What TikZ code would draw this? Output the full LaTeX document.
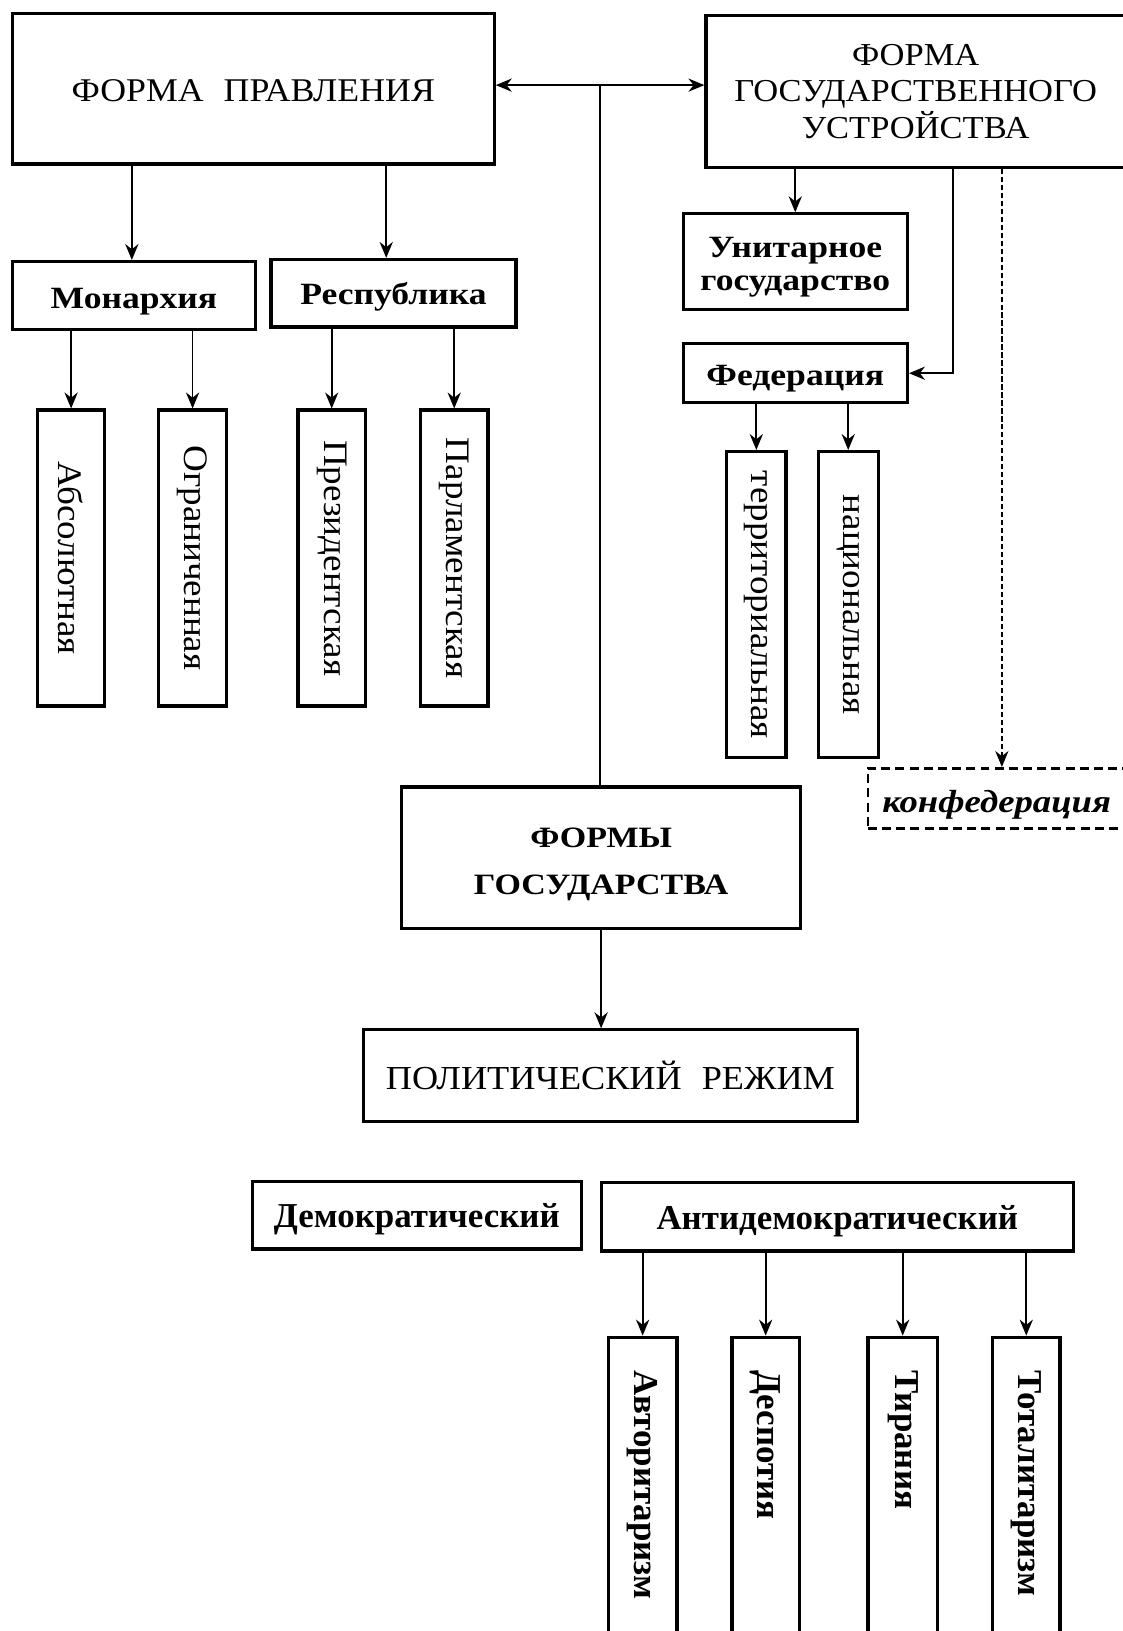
\documentclass[tikz,border=0pt]{standalone}
\usepackage{fontspec}
\setmainfont{Liberation Serif}[FakeStretch=1.08, BoldFeatures={FakeStretch=1.15}, BoldItalicFeatures={FakeStretch=1.15}]
\newfontfamily\tnr{Liberation Serif}
\newcommand\lowerby[1]{\rule{0pt}{#1}}
\usetikzlibrary{arrows.meta,calc}
\begin{document}
\begin{tikzpicture}[x=0.52pt,y=-0.52pt,
  box/.style={draw, line width=1.6pt, inner sep=0pt, align=center},
  arr/.style={-{Stealth[length=8pt,width=6.6pt,inset=2.6pt]}, line width=0.9pt},
  dashbox/.style={draw, line width=1.3pt, dash pattern=on 4.5pt off 2.6pt, inner sep=0pt},
  dasharr/.style={arr, dash pattern=on 2.6pt off 1.4pt, line width=0.65pt},
  capfont/.style={font=\fontsize{16.6}{18.2}\selectfont},
  boldfont/.style={font=\fontsize{15.5}{16.6}\selectfont\bfseries},
  vfont/.style={font=\fontsize{17.2}{20}\selectfont},
  tfont/.style={font=\fontsize{17.5}{20}\selectfont\tnr\bfseries},
  vbox/.style={box, vfont, rotate=-90},
  tbox/.style={box, tfont, rotate=-90, text width=139.36pt, inner xsep=16.64pt, align=left, minimum width=172.64pt}
]
\fill[white] (0,0) rectangle (1081,1571);
\useasboundingbox (0,0) rectangle (1081,1571);

% top level
\node[box, capfont, minimum width=241.28pt, minimum height=75.4pt] (fp) at (244,85.5) {\lowerby{13pt}ФОРМА\hspace{0.6em}ПРАВЛЕНИЯ};
\node[box, font=\fontsize{16}{18.2}\selectfont, minimum width=210.08pt, minimum height=75.92pt] (fgu) at (882,88) {ФОРМА\\ГОСУДАРСТВЕННОГО\\УСТРОЙСТВА};

% form of government
\node[box, boldfont, minimum width=121.68pt, minimum height=33.8pt] (mon) at (129,284.5) {\lowerby{16.2pt}Монархия};
\node[box, boldfont, minimum width=122.72pt, minimum height=33.8pt] (rep) at (379,282.5) {\lowerby{14.8pt}Республика};
\node[vbox, minimum width=148.2pt, minimum height=33.8pt] (abs) at (68.5,537.5) {Абсолютная};
\node[vbox, minimum width=148.2pt, minimum height=33.8pt] (ogr) at (185.5,537.5) {Ограниченная};
\node[vbox, minimum width=148.2pt, minimum height=33.8pt] (pres) at (319.5,537.5) {Президентская};
\node[vbox, minimum width=148.2pt, minimum height=33.8pt] (parl) at (437.5,537.5) {Парламентская};

% state structure
\node[box, boldfont, minimum width=112.32pt, minimum height=47.84pt] (unit) at (766,252) {\lowerby{15.6pt}Унитарное\\государство};
\node[box, boldfont, minimum width=112.32pt, minimum height=29.64pt] (fed) at (766,359.5) {\lowerby{15.5pt}Федерация};
\node[vbox, minimum width=153.4pt, minimum height=29.64pt] (terr) at (728.5,582.5) {территориальная};
\node[vbox, minimum width=153.4pt, minimum height=30.16pt] (nac) at (817,582.5) {национальная};
\node[dashbox, font=\fontsize{16}{18}\selectfont\bfseries\itshape, minimum width=128.96pt, minimum height=30.16pt] (conf) at (960,769) {\lowerby{17.5pt}конфедерация};

% forms of state
\node[box, font=\fontsize{14.8}{23.4}\selectfont\bfseries, minimum width=199.68pt, minimum height=70.72pt] (fg) at (579,826) {\lowerby{16.5pt}ФОРМЫ\\ГОСУДАРСТВА};
\node[box, font=\fontsize{16.8}{19}\selectfont, minimum width=247.52pt, minimum height=45.76pt] (pr) at (588,1036) {ПОЛИТИЧЕСКИЙ\hspace{0.6em}РЕЖИМ};

% regimes
\node[box, tfont, minimum width=164.84pt, minimum height=33.8pt] (dem) at (401.5,1170.5) {\lowerby{16pt}Демократический};
\node[box, tfont, minimum width=236.6pt, minimum height=34.32pt] (anti) at (806.5,1172) {\lowerby{16pt}Антидемократический};
\node[tbox, minimum height=34.32pt] (avt) at (619,1454) {Авторитаризм};
\node[tbox, minimum height=33.8pt] (desp) at (737.5,1454) {Деспотия};
\node[tbox, minimum height=34.84pt] (tir) at (869.5,1454) {Тирания};
\node[tbox, minimum height=33.8pt] (tot) at (988.5,1454) {Тоталитаризм};

% connectors
\coordinate (j) at (578,82);
\draw[arr] (j) -- (j -| fp.east);
\draw[arr] (j) -- (j -| fgu.west);
\draw[line width=0.9pt] (j) -- (j |- fg.north);

\draw[arr] ([xshift=-1.04pt]fp.south -| mon.north) -- ([xshift=-1.04pt]mon.north);
\draw[arr] ([xshift=-3.64pt]fp.south -| rep.north) -- ([xshift=-3.64pt]rep.north);
\draw[arr] (mon.south -| abs.west) -- (abs.west);
\draw[arr] (mon.south -| ogr.west) -- (ogr.west);
\draw[arr] (rep.south -| pres.west) -- (pres.west);
\draw[arr] (rep.south -| parl.west) -- (parl.west);

\draw[arr] (fgu.south -| unit.north) -- (unit.north);
\draw[arr] ([xshift=18.72pt]fgu.south) |- (fed.east);
\draw[dasharr] ([xshift=43.16pt]fgu.south) -- ([xshift=43.16pt]fgu.south |- conf.north);
\draw[arr] (fed.south -| terr.west) -- (terr.west);
\draw[arr] (fed.south -| nac.west) -- (nac.west);

\draw[arr] (fg.south) -- (fg.south |- pr.north);

\draw[arr] (anti.south -| avt.west) -- (avt.west);
\draw[arr] (anti.south -| desp.west) -- (desp.west);
\draw[arr] (anti.south -| tir.west) -- (tir.west);
\draw[arr] (anti.south -| tot.west) -- (tot.west);
\end{tikzpicture}
\end{document}
